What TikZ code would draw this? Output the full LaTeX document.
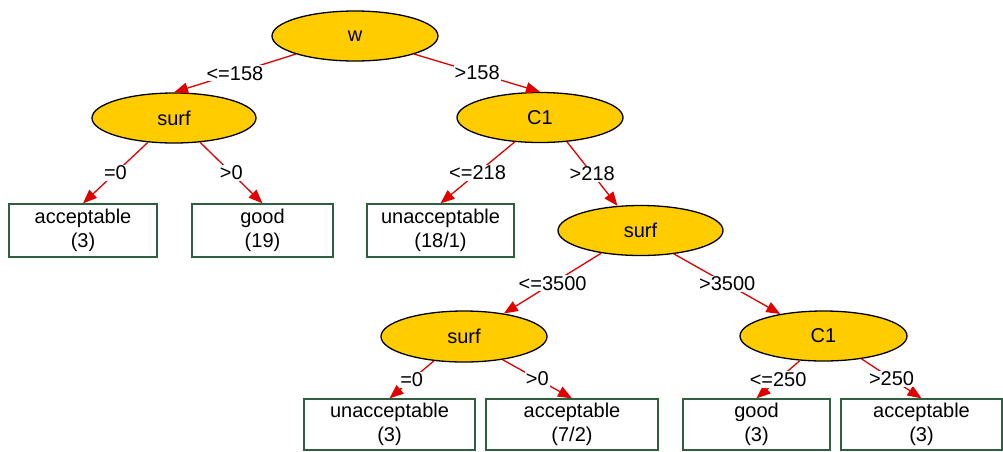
\documentclass[tikz,border=0pt]{standalone}
\usepackage{fontspec}
\setmainfont{Liberation Sans}
\usetikzlibrary{shapes.geometric,arrows.meta}
\definecolor{nodeyellow}{HTML}{FFCC00}
\definecolor{edgered}{HTML}{E00000}
\definecolor{boxgreen}{HTML}{2F5F3F}
\tikzset{
  every node/.style={font=\fontsize{20}{23.5}\selectfont},
  attr/.style={ellipse, draw=black, fill=nodeyellow, line width=1.3pt, inner sep=0pt, minimum height=50pt},
  leaf/.style={rectangle, draw=boxgreen, fill=white, line width=1.3pt, inner sep=0pt, align=center},
  edge/.style={draw=edgered, line width=1.3pt, -{Triangle[length=14pt,width=11pt]}},
  lbl/.style={midway, fill=white, inner sep=1pt}
}
\begin{document}
\begin{tikzpicture}[x=1pt,y=-1pt]
\useasboundingbox (0,0) rectangle (1003,451);
% attribute nodes
\node[attr, minimum width=166pt] (w) at (355,36) {w};
\node[attr, minimum width=164pt] (s1) at (174,118) {surf};
\node[attr, minimum width=166pt] (c1) at (540,117.5) {C1};
\node[attr, minimum width=165pt] (s2) at (640.5,230.5) {surf};
\node[attr, minimum width=166pt, minimum height=51pt] (s3) at (464,336.5) {surf};
\node[attr, minimum width=167pt] (c2) at (823.5,336) {C1};
% leaves
\node[leaf, minimum width=148pt, minimum height=53pt] (l1) at (83,230.5) {acceptable\\(3)};
\node[leaf, minimum width=141pt, minimum height=53pt] (l2) at (262.5,230.5) {good\\(19)};
\node[leaf, minimum width=147pt, minimum height=53pt] (l3) at (440.5,230.5) {unacceptable\\(18/1)};
\node[leaf, minimum width=171pt, minimum height=51pt] (l4) at (389.5,424.5) {unacceptable\\(3)};
\node[leaf, minimum width=172pt, minimum height=51pt] (l5) at (572,424.5) {acceptable\\(7/2)};
\node[leaf, minimum width=147pt, minimum height=51pt] (l6) at (756.5,424.5) {good\\(3)};
\node[leaf, minimum width=161pt, minimum height=51pt] (l7) at (921.5,424.5) {acceptable\\(3)};
% edges
\draw[edge] (w.197) -- node[lbl] {<=158} (s1.north);
\draw[edge] (w.343) -- node[lbl] {>158} (c1.north);
\draw[edge] (s1.223) -- node[lbl] {=0} (l1.north);
\draw[edge] (s1.317) -- node[lbl] {>0} (l2.north);
\draw[edge] (c1.224) -- node[lbl] {<=218} (l3.north);
\draw[edge] (c1.318) -- node[lbl] {>218} (s2.133);
\draw[edge] (s2.210) -- node[lbl] {<=3500} (s3.30);
\draw[edge] (s2.325) -- node[lbl] {>3500} (c2.153);
\draw[edge] (s3.219) -- node[lbl] {=0} (l4.north);
\draw[edge] (s3.329) -- node[lbl] {>0} (l5.north);
\draw[edge] (c2.226) -- node[lbl] {<=250} (l6.north);
\draw[edge] (c2.329) -- node[lbl] {>250} (l7.north);
\end{tikzpicture}
\end{document}
